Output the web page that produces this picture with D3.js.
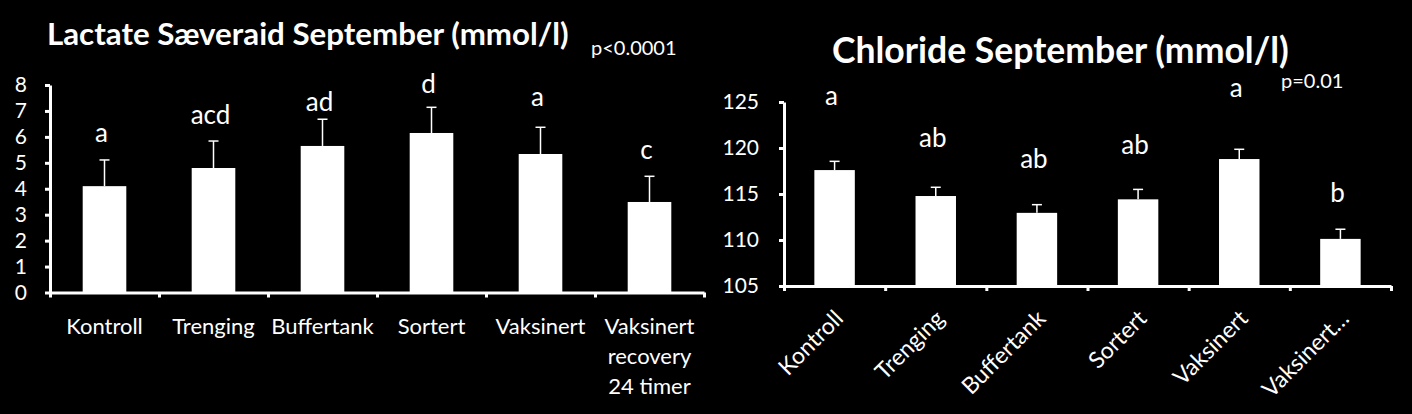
<!DOCTYPE html>
<html><head><meta charset="utf-8">
<script src="https://cdn.jsdelivr.net/npm/d3@7"></script>
<style>html,body{margin:0;padding:0;background:#000;}svg{display:block;}</style>
</head><body><svg id="c" width="1412" height="414"></svg>
<script>
// ---- data: left panel (lactate) ----
const lactateCategories = ["Kontroll", "Trenging", "Buffertank", "Sortert", "Vaksinert", "Vaksinert recovery 24 timer"];
const lactateMeans = [4.10, 4.80, 5.65, 6.15, 5.34, 3.49];
const lactateErrors = [1.01, 1.04, 1.03, 0.99, 1.03, 0.99];
const lactateLetters = ["a", "acd", "ad", "d", "a", "c"];
const lactateLetterLevels = [5.81, 6.50, 7.01, 7.68, 7.20, 5.13];
const lactateTicks = [0, 1, 2, 3, 4, 5, 6, 7, 8];
const lactateTitle = "Lactate Sæveraid September (mmol/l)";
const lactateP = "p<0.0001";

// ---- data: right panel (chloride) ----
const chlorideCategories = ["Kontroll", "Trenging", "Buffertank", "Sortert", "Vaksinert", "Vaksinert…"];
const chlorideMeans = [117.60, 114.78, 112.95, 114.42, 118.80, 110.12];
const chlorideErrors = [0.95, 0.95, 0.89, 1.08, 1.06, 1.05];
const chlorideLetters = ["a", "ab", "ab", "ab", "a", "b"];
const chlorideLetterLevels = [124.64, 120.08, 117.80, 119.35, 125.58, 114.16];
const chlorideTicks = [105, 110, 115, 120, 125];
const chlorideTitle = "Chloride September (mmol/l)";
const chlorideP = "p=0.01";

const FONT = "Lato, 'Open Sans', 'DejaVu Sans', sans-serif";
const svg = d3.select("#c");
svg.append("rect").attr("width", 1412).attr("height", 414).attr("fill", "#000");

function fitText(sel, targetWidth, baseSize) {
  sel.attr("font-size", baseSize);
  const w = sel.node().getComputedTextLength();
  sel.attr("font-size", baseSize * targetWidth / w);
}

function panel(o) {
  const g = svg.append("g");
  const x = d3.scaleBand().domain(o.cats).range(o.xRange).paddingInner(0.6).paddingOuter(0.3);
  const y = d3.scaleLinear().domain(o.yDomain).range(o.yRange);
  const base = y(o.yDomain[0]);
  const cx = d => x(d) + x.bandwidth() / 2;

  // bars
  g.selectAll("rect.bar").data(o.cats).join("rect").attr("class", "bar")
    .attr("x", d => x(d)).attr("width", x.bandwidth())
    .attr("y", (d, i) => y(o.means[i]))
    .attr("height", (d, i) => base - y(o.means[i]))
    .attr("fill", "#fff");

  // error bars (upper only)
  const eb = g.selectAll("g.err").data(o.cats).join("g").attr("class", "err");
  eb.append("line").attr("x1", cx).attr("x2", cx)
    .attr("y1", (d, i) => y(o.means[i])).attr("y2", (d, i) => y(o.means[i] + o.errs[i]))
    .attr("stroke", "#fff").attr("stroke-width", 1.5);
  eb.append("line").attr("x1", d => cx(d) - 5).attr("x2", d => cx(d) + 5)
    .attr("y1", (d, i) => y(o.means[i] + o.errs[i])).attr("y2", (d, i) => y(o.means[i] + o.errs[i]))
    .attr("stroke", "#fff").attr("stroke-width", 1.5);

  // significance letters
  g.selectAll("text.letter").data(o.cats).join("text").attr("class", "letter")
    .attr("x", d => cx(d) - 3).attr("y", (d, i) => y(o.levels[i]))
    .attr("text-anchor", "middle").attr("fill", "#fff")
    .attr("font-family", FONT).attr("font-size", 26)
    .text((d, i) => o.letters[i]);

  // y axis
  const ya = d3.axisLeft(y).tickValues(o.ticks).tickSize(5).tickSizeOuter(0)
    .tickPadding(o.tickPad).tickFormat(d3.format("d"));
  const yg = g.append("g").attr("transform", `translate(${o.xRange[0]},0)`).call(ya)
    .attr("font-family", FONT).attr("font-size", 21);
  yg.select(".domain").attr("stroke", "#fff").attr("stroke-width", 3);
  yg.selectAll(".tick line").attr("stroke", "#fff").attr("stroke-width", 3);
  yg.selectAll(".tick text").attr("fill", "#fff");

  // x axis with ticks on category boundaries
  const xb = d3.scaleLinear().domain([0, o.cats.length]).range(o.xRange);
  const xa = d3.axisBottom(xb).tickValues(d3.range(o.cats.length + 1)).tickSize(5).tickSizeOuter(0).tickFormat("");
  const xg = g.append("g").attr("transform", `translate(0,${base})`).call(xa);
  xg.select(".domain").attr("stroke", "#fff").attr("stroke-width", 3);
  xg.selectAll(".tick line").attr("stroke", "#fff").attr("stroke-width", 3);

  // category labels
  if (o.rotate) {
    g.selectAll("text.cat").data(o.cats).join("text").attr("class", "cat")
      .attr("transform", d => `translate(${cx(d) + 10},${base + 34}) rotate(-45)`)
      .attr("text-anchor", "end").attr("fill", "#fff")
      .attr("font-family", FONT).attr("font-size", 23).text(d => d);
  } else {
    const labels = g.selectAll("text.cat").data(o.cats).join("text").attr("class", "cat")
      .attr("text-anchor", "middle").attr("fill", "#fff")
      .attr("font-family", FONT).attr("font-size", 22);
    labels.each(function (d) {
      const t = d3.select(this);
      const words = d.split(" ");
      let lines = [], cur = [];
      const probe = t.append("tspan");
      words.forEach(w => {
        const test = cur.concat([w]).join(" ");
        probe.text(test);
        if (cur.length && probe.node().getComputedTextLength() > x.step() * 0.97) {
          lines.push(cur.join(" ")); cur = [w];
        } else cur.push(w);
      });
      lines.push(cur.join(" "));
      probe.remove();
      lines.forEach((ln, k) => {
        t.append("tspan").attr("x", cx(d)).attr("y", base + 41 + k * 30).text(ln);
      });
    });
  }

  // title and p-value
  const title = g.append("text").attr("x", o.titlePos[0]).attr("y", o.titlePos[1])
    .attr("fill", "#fff").attr("font-family", FONT).attr("font-weight", "bold").text(o.title);
  fitText(title, o.titleWidth, 26);
  g.append("text").attr("x", o.pPos[0]).attr("y", o.pPos[1]).attr("fill", "#fff")
    .attr("font-family", FONT).attr("font-size", 20).text(o.p);
}

panel({
  cats: lactateCategories, means: lactateMeans, errs: lactateErrors,
  letters: lactateLetters, levels: lactateLetterLevels, ticks: lactateTicks,
  xRange: [50, 704], yDomain: [0, 8], yRange: [292.5, 85], tickPad: 18, rotate: false,
  title: lactateTitle, titlePos: [47, 45], titleWidth: 522, p: lactateP, pPos: [591, 55]
});
panel({
  cats: chlorideCategories, means: chlorideMeans, errs: chlorideErrors,
  letters: chlorideLetters, levels: chlorideLetterLevels, ticks: chlorideTicks,
  xRange: [784, 1391], yDomain: [105, 125], yRange: [286, 102], tickPad: 20, rotate: true,
  title: chlorideTitle, titlePos: [832, 63], titleWidth: 457, p: chlorideP, pPos: [1281, 88]
});
</script></body></html>
